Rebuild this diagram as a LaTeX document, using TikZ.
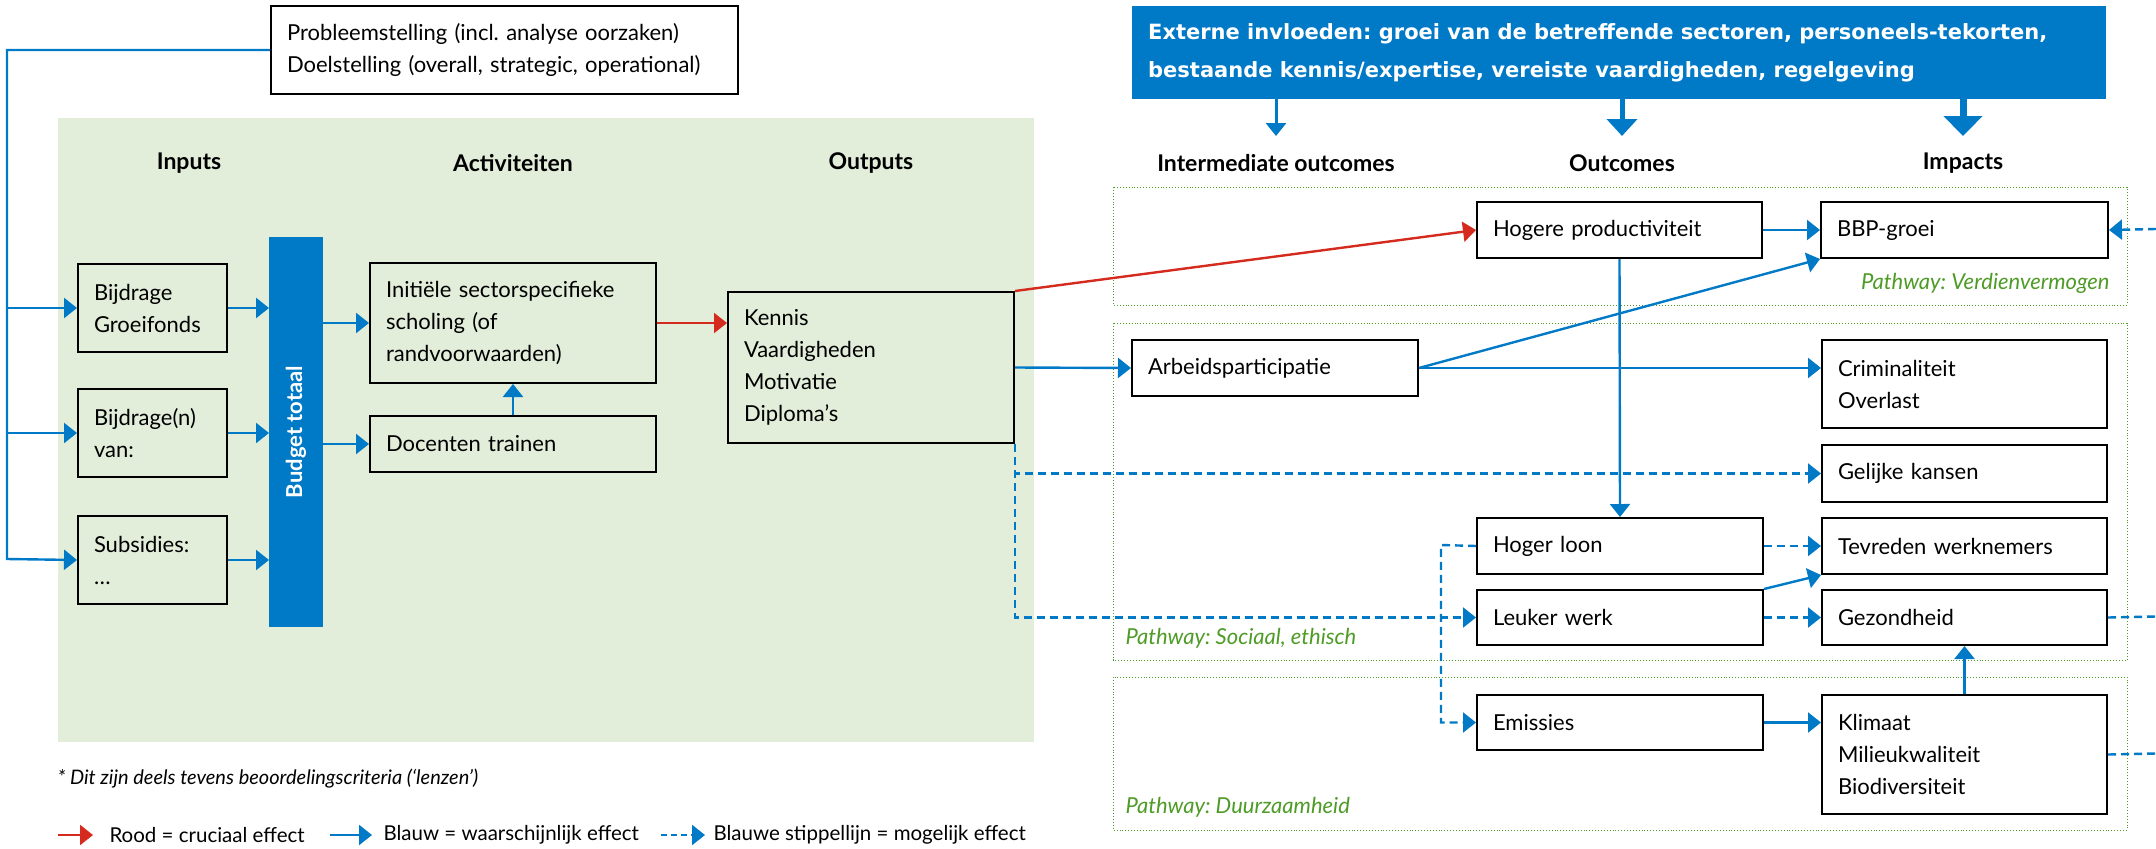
\documentclass[tikz,border=0pt]{standalone}
\usepackage{fontspec}
\setmainfont{Lato}
\newfontfamily\widebold{DejaVu Sans}
\usetikzlibrary{arrows.meta,calc}
\definecolor{roblue}{RGB}{0,122,199}
\definecolor{rored}{RGB}{213,43,30}
\definecolor{bggreen}{RGB}{226,237,218}
\definecolor{pgreen}{RGB}{78,155,38}
\frenchspacing
\begin{document}
\begin{tikzpicture}[x=1pt,y=-1pt,
  box/.style={draw=black, line width=2pt, inner xsep=16pt, inner ysep=0pt, align=left,
    anchor=north west, font=\fontsize{22}{32}\selectfont},
  hdr/.style={font=\fontsize{23}{28}\selectfont\bfseries},
  arr/.style={draw=roblue, line width=2.4pt, -{Triangle[length=13pt,width=20pt]}},
  darr/.style={arr, dash pattern=on 8pt off 5pt},
  dline/.style={draw=roblue, line width=2.4pt, dash pattern=on 8pt off 5pt},
  rarr/.style={arr, draw=rored},
  pway/.style={draw=pgreen, line width=0.9pt, dotted},
  plabel/.style={text=pgreen, font=\fontsize{22}{26}\selectfont\itshape},
  leg/.style={anchor=west, font=\fontsize{20.5}{24}\selectfont}]
\useasboundingbox (0,0) rectangle (2156,849);
% background
\fill[bggreen] (58,118) rectangle (1034,742);
% pathway frames
\draw[pway] (1113,187) rectangle (2127,305);
\draw[pway] (1113,323) rectangle (2127,660);
\draw[pway] (1113,677) rectangle (2127,830);
\node[plabel, anchor=east] (pv) at (2113,283) {Pathway: Verdienvermogen};
\node[plabel, anchor=west] (ps) at (1122,638) {Pathway: Sociaal, ethisch};
\node[plabel, anchor=west] (pd) at (1122,807) {Pathway: Duurzaamheid};
% top boxes
\node[box, minimum width=467pt, minimum height=88pt, text width=435pt] (top) at (270,5)
  {Probleemstelling (incl. analyse oorzaken)\\Doelstelling (overall, strategic, operational)};
\node[anchor=north west, fill=roblue, minimum width=974pt, minimum height=93pt, inner sep=0pt] (ext) at (1132,6) {};
\node[anchor=west, inner sep=0pt, align=left, text=white, font=\widebold\fontsize{21}{38}\selectfont\bfseries] (exttext) at (1148,53)
  {Externe invloeden: groei van de betreffende sectoren, personeels-tekorten,\\bestaande kennis/expertise, vereiste vaardigheden, regelgeving};
% headers
\node[hdr] (hIn) at (189,163) {Inputs};
\node[hdr] (hAc) at (513,163) {Activiteiten};
\node[hdr] (hOu) at (871,163) {Outputs};
\node[hdr] (hIO) at (1276,163) {Intermediate outcomes};
\node[hdr] (hOc) at (1622,163) {Outcomes};
\node[hdr] (hIm) at (1963,163) {Impacts};
% inputs
\node[box, minimum width=149pt, minimum height=88pt, text width=117pt] (in1) at (77,263) {Bijdrage\\Groeifonds};
\node[box, minimum width=149pt, minimum height=88pt, text width=117pt] (in2) at (77,388) {Bijdrage(n)\\van:};
\node[box, minimum width=149pt, minimum height=88pt, text width=117pt] (in3) at (77,515) {Subsidies:\\\dots};
% budget bar
\node[anchor=north west, fill=roblue, minimum width=54pt, minimum height=390pt, inner sep=0pt] (bar) at (269,237) {};
\node[rotate=90, text=white, font=\fontsize{22}{24}\selectfont\bfseries] (bartext) at (296,432) {Budget totaal};
% activities
\node[box, minimum width=286pt, minimum height=120pt, text width=254pt] (act1) at (369,262)
  {Initiële sectorspecifieke\\scholing (of\\randvoorwaarden)};
\node[box, minimum width=286pt, minimum height=56pt, text width=254pt] (act2) at (369,415) {Docenten trainen};
% outputs
\node[box, minimum width=286pt, minimum height=151pt, text width=254pt] (out) at (727,291)
  {Kennis\\Vaardigheden\\Motivatie\\Diploma’s};
% right side boxes
\node[box, minimum width=285pt, minimum height=56pt, text width=253pt] (hog) at (1476,201) {Hogere productiviteit};
\node[box, minimum width=287pt, minimum height=56pt, text width=255pt] (bbp) at (1820,201) {BBP-groei};
\node[box, minimum width=286pt, minimum height=56pt, text width=254pt] (arb) at (1131,339) {Arbeidsparticipatie};
\node[box, minimum width=285pt, minimum height=88pt, text width=253pt] (crim) at (1821,339) {Criminaliteit\\Overlast};
\node[box, minimum width=285pt, minimum height=57pt, text width=253pt] (gel) at (1821,444) {Gelijke kansen};
\node[box, minimum width=286pt, minimum height=56pt, text width=254pt] (hl) at (1476,517) {Hoger loon};
\node[box, minimum width=285pt, minimum height=56pt, text width=253pt] (tev) at (1821,517) {Tevreden werknemers};
\node[box, minimum width=286pt, minimum height=55pt, text width=254pt] (leu) at (1476,589) {Leuker werk};
\node[box, minimum width=285pt, minimum height=55pt, text width=253pt] (gez) at (1821,589) {Gezondheid};
\node[box, minimum width=286pt, minimum height=55pt, text width=254pt] (emi) at (1476,694) {Emissies};
\node[box, minimum width=285pt, minimum height=119pt, text width=253pt] (kli) at (1821,694)
  {Klimaat\\Milieukwaliteit\\Biodiversiteit};
% external influence arrows
\coordinate (t1) at (1276,136);
\coordinate (t2) at (1622,136);
\coordinate (t3) at (1963,136);
\draw[draw=roblue, line width=3pt, -{Triangle[length=13pt,width=20pt]}] (ext.south -| t1) -- (t1);
\draw[draw=roblue, line width=5pt, -{Triangle[length=17pt,width=30pt]}] (ext.south -| t2) -- (t2);
\draw[draw=roblue, line width=7pt, -{Triangle[length=20pt,width=38pt]}] (ext.south -| t3) -- (t3);
% left feeder
\coordinate (fb) at (7,559);
\draw[arr] (top.west) -| (fb) -- (in3.west);
\draw[arr] (fb |- in1.west) -- (in1.west);
\draw[arr] (fb |- in2.west) -- (in2.west);
% inputs to bar
\draw[arr] (in1.east) -- (in1.east -| bar.west);
\draw[arr] (in2.east) -- (in2.east -| bar.west);
\draw[arr] (in3.east) -- (in3.east -| bar.west);
% bar to activities
\draw[arr] (bar.east |- act1.west) -- (act1.west);
\draw[arr] (bar.east |- act2.west) -- (act2.west);
\draw[arr] (act2.north) -- (act1.south);
\draw[rarr] (act1.east) -- (act1.east -| out.west);
% outputs onwards
\draw[rarr] (out.north east) -- (hog.west);
\draw[arr] (out.east) -- (arb.west);
\draw[darr] (out.south east) |- (gel.west);
\draw[darr] (out.south east) |- (leu.west);
% right side
\draw[arr] (hog.east) -- (bbp.west);
\draw[arr] (hog.south) -- (hl.north);
\draw[arr] (arb.east) -- (bbp.south west);
\draw[arr] (arb.east) -- (arb.east -| crim.west);
\draw[darr] (hl.east) -- (tev.west);
\draw[arr] (leu.north east) -- (tev.south west);
\draw[darr] (leu.east) -- (gez.west);
\coordinate (hlx) at (1441,545);
\draw[darr] (hl.west) -- (hlx) |- (emi.west);
\draw[arr] (emi.east) -- (emi.east -| kli.west);
\draw[arr] (kli.north) -- (gez.south);
\coordinate (r1) at (2156,229);
\coordinate (r2) at (2156,616.5);
\coordinate (r3) at (2156,753.5);
\draw[darr] (r1) -- (bbp.east);
\draw[dline] (gez.east) -- (r2);
\draw[dline] (kli.east) -- (r3);
% footnote and legend
\node[leg, font=\fontsize{20}{24}\selectfont\itshape] (fn) at (54,779) {* Dit zijn deels tevens beoordelingscriteria (‘lenzen’)};
\coordinate (l1a) at (58,835); \coordinate (l1b) at (93,835);
\coordinate (l2a) at (330,835); \coordinate (l2b) at (372,835);
\coordinate (l3a) at (661,835); \coordinate (l3b) at (705,835);
\draw[rarr] (l1a) -- (l1b);
\draw[arr] (l2a) -- (l2b);
\draw[darr, dash pattern=on 6pt off 4pt] (l3a) -- (l3b);
\node[leg] (lt1) at (106,835) {Rood = cruciaal effect};
\node[leg] (lt2) at (380,835) {Blauw = waarschijnlijk effect};
\node[leg] (lt3) at (710,835) {Blauwe stippellijn = mogelijk effect};
\end{tikzpicture}
\end{document}
